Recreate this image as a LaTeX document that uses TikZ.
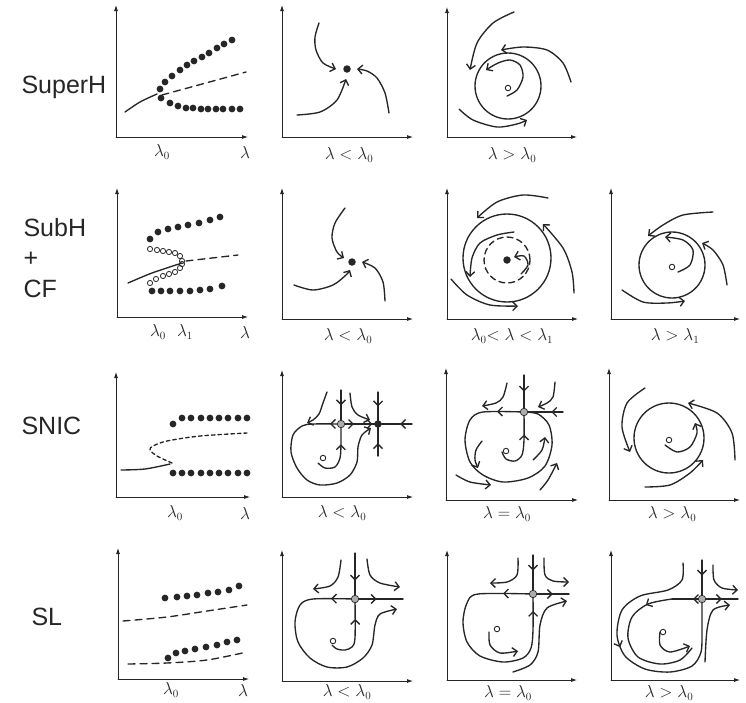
\documentclass[tikz,border=0pt]{standalone}
\usepackage{fontspec}
\setsansfont{Liberation Sans}
\usetikzlibrary{arrows.meta, decorations.markings}

\begin{document}
\begin{tikzpicture}[x=1pt, y=-1pt, line cap=round, black!85,
  axis/.style={line width=0.8pt, -{Latex[length=6pt,width=4pt]}},
  traj/.style={line width=1.35pt},
  flow/.style={traj, -{Straight Barb[length=4.5pt,width=9pt]}},
  mid/.style={postaction={decorate, decoration={markings,
      mark=at position #1 with {\arrow{Straight Barb[length=4.5pt,width=9pt]}}}}},
  sink/.style={circle, fill=black!85, minimum size=7.5pt, inner sep=0pt},
  source/.style={circle, draw=black!85, line width=0.9pt, minimum size=5.5pt, inner sep=0pt},
  saddle/.style={circle, fill=gray!65, draw=black!85, line width=0.7pt, minimum size=7.5pt, inner sep=0pt},
  lab/.style={font=\fontsize{16}{19}\selectfont},
  rowlab/.style={font=\sffamily\fontsize{25}{30}\selectfont, anchor=base west}]
\useasboundingbox (0,0) rectangle (746,702);

% row titles
\node[rowlab] (superh) at (18,93)  {SuperH};
\node[rowlab] (subh)   at (20,236) {SubH};
\node[rowlab] (plus)   at (20,266) {+};
\node[rowlab] (cf)     at (20,297) {CF};
\node[rowlab] (snic)   at (18,434) {SNIC};
\node[rowlab] (sl)     at (28,625) {SL};

% ---------- row 1: supercritical Hopf ----------
\draw[axis] (116,137) -- (116,5);  \draw[axis] (116,137) -- (248,137);
\draw[axis] (282,137) -- (282,5);  \draw[axis] (282,137) -- (413,137);
\draw[axis] (447,137) -- (447,7);  \draw[axis] (447,137) -- (577,137);
\draw[traj] plot[smooth] coordinates {(125,112) (140,102) (157,94)};
\draw[traj, dash pattern=on 7pt off 5pt] (162,95) -- (246,72);
\foreach \p in {(160,89),(165,82),(172,76),(180,70),(187,65),(194,61),(202,57),(209,53),(217,48),(224,44),(232,40),
                (161,98),(170,103),(178,106),(186,108),(193,108),(201,109),(208,109),(216,109),(223,109),(232,109),(240,109)}
  \fill \p circle (3.4pt);
\node[lab] (l1a) at (162,152) {$\lambda_0$};
\node[lab] (l1b) at (245,152) {$\lambda$};

\draw[flow] plot[smooth] coordinates {(319,23) (315,37) (316,50) (323,63) (336,69)};
\draw[flow] plot[smooth] coordinates {(297,115) (320,112) (337,100) (346,79)};
\draw[flow] plot[smooth] coordinates {(389,113) (385,93) (377,78) (367,71) (357,69)};
\node[sink] (f1) at (347,69) {};
\node[lab] (l1c) at (349,155) {$\lambda < \lambda_0$};

\draw[traj] (508,86) circle (33pt);
\draw[flow] plot[smooth] coordinates {(507,96) (517,90) (523,77) (520,65) (510,60) (498,63) (486,70)};
\draw[flow] plot[smooth] coordinates {(514,12) (493,23) (477,43) (470,70)};
\draw[flow] plot[smooth] coordinates {(571,82) (563,63) (547,50) (523,47) (501,50)};
\draw[flow] plot[smooth] coordinates {(459,109) (473,120) (497,127) (517,124) (527,120)};
\node[source] (s1) at (508,88) {};
\node[lab] (l1d) at (512,155) {$\lambda > \lambda_0$};

% ---------- row 2: subcritical Hopf + cycle fold ----------
\draw[axis] (117,317) -- (117,188); \draw[axis] (117,317) -- (248,317);
\draw[axis] (282,319) -- (282,188); \draw[axis] (282,319) -- (413,319);
\draw[axis] (447,319) -- (447,188); \draw[axis] (447,319) -- (578,319);
\draw[axis] (611,319) -- (611,188); \draw[axis] (611,319) -- (740,319);
\draw[traj] plot[smooth] coordinates {(128,283) (152,273) (182,263)};
\draw[traj, dash pattern=on 7pt off 5pt] (186,261) -- (238,255);
\foreach \p in {(150,239),(158,232),(168,229),(178,227),(188,225),(199,223),(210,220),(220,217),
                (152,291),(161,291),(170,291),(180,291),(190,291),(200,290),(210,289),(222,286)}
  \fill \p circle (3.4pt);
\foreach \p in {(150,249),(157,250),(163,251),(169,252),(175,253),(180,256),(182,261),
                (150,283),(156,279),(163,276),(169,274),(175,272),(180,268),(182,264)}
  \draw[line width=0.8pt] \p circle (2.6pt);
\node[lab] (l2a) at (158,332) {$\lambda_0$};
\node[lab] (l2b) at (185,332) {$\lambda_1$};
\node[lab] (l2c) at (245,332) {$\lambda$};

\draw[flow] plot[smooth] coordinates {(345,208) (335,223) (332,238) (337,252) (344,258)};
\draw[flow] plot[smooth] coordinates {(294,285) (313,290) (333,285) (346,275) (350,270)};
\draw[flow] plot[smooth] coordinates {(385,301) (383,282) (375,268) (362,262)};
\node[sink] (f2) at (352,262) {};
\node[lab] (l2d) at (348,336) {$\lambda < \lambda_0$};

\draw[traj] (507,258) circle (44pt);
\draw[traj, dash pattern=on 6pt off 4pt] (507,260) circle (23pt);
\draw[flow] plot[smooth] coordinates {(521,274) (528,265) (524,256) (514,257)};
\draw[flow] plot[smooth] coordinates {(514,232) (497,235) (480,243) (472,258) (470,277)};
\draw[flow] plot[smooth] coordinates {(548,198) (523,195) (497,202) (477,218)};
\draw[flow] plot[smooth] coordinates {(574,293) (572,272) (563,248) (543,224)};
\draw[flow] plot[smooth] coordinates {(451,279) (467,295) (490,305) (518,306)};
\node[sink] (f3) at (507,260) {};
\node[lab] (l2e) at (512,336) {$\lambda_0{<}\ \lambda < \lambda_1$};

\draw[traj] (672,265) circle (33pt);
\draw[flow] plot[smooth] coordinates {(678,272) (690,265) (693,250) (683,240) (665,237)};
\draw[flow] plot[smooth] coordinates {(713,212) (683,215) (663,225) (648,236)};
\draw[flow] plot[smooth] coordinates {(727,285) (723,265) (713,250) (702,243)};
\draw[flow] plot[smooth] coordinates {(622,290) (643,302) (667,303) (685,301)};
\node[source] (s2) at (672,267) {};
\node[lab] (l2f) at (675,336) {$\lambda > \lambda_1$};

% ---------- row 3: SNIC ----------
\draw[axis] (116,497) -- (116,372); \draw[axis] (116,497) -- (250,497);
\draw[axis] (282,497) -- (282,370); \draw[axis] (282,497) -- (413,497);
\draw[axis] (446,500) -- (446,368); \draw[axis] (446,500) -- (578,500);
\draw[axis] (609,500) -- (609,368); \draw[axis] (609,500) -- (740,500);
\draw[traj] plot[smooth] coordinates {(121,470) (145,469) (170,464)};
\draw[traj, dash pattern=on 3.5pt off 3pt] plot[smooth] coordinates {(172,463) (157,456) (150,450) (153,446) (167,441) (200,436) (247,433)};
\foreach \x in {173,182,191,201,210,219,228,238,247} \fill (\x,473) circle (3.4pt);
\foreach \x in {182,191,201,210,219,228,238,247} \fill (\x,418) circle (3.4pt);
\fill (173,424) circle (3.4pt);
\node[lab] (l3a) at (175,513) {$\lambda_0$};
\node[lab] (l3b) at (245,513) {$\lambda$};

\draw[traj, mid=0.45] (341,390) -- (341,424);
\draw[traj, mid=0.35, mid=0.85] (341,424) -- (378,424);
\draw[traj, mid=0.35] (412,424) -- (378,424);
\draw[traj, mid=0.45] (378,392) -- (378,424);
\draw[traj, mid=0.4] (378,456) -- (378,424);
\draw[flow, mid=11pt] plot[smooth] coordinates {(341,424) (313,424) (302,426) (293,435) (291,452) (297,468) (307,480) (320,485) (337,483) (350,475) (357,462) (358,447) (362,435) (371,428)};
\draw[traj, mid=0.68] plot[smooth] coordinates {(318,463) (325,468) (335,467) (340,458) (341,444) (341,424)};
\draw[flow] plot[smooth] coordinates {(327,392) (323,403) (319,414) (313,420) (307,423)};
\draw[flow] plot[smooth] coordinates {(350,393) (352,407) (358,415) (370,420)};
\node[saddle] (sn1) at (341,424) {};
\node[sink] (f4) at (378,424) {};
\node[source] (s3) at (323,458) {};
\node[lab] (l3c) at (342,513) {$\lambda < \lambda_0$};

\draw[traj, mid=0.45] (524,375) -- (524,412);
\draw[traj, mid=0.3] (563,412) -- (524,412);
\draw[traj, mid=27pt] plot[smooth] coordinates {(524,412) (483,412) (470,420) (465,440) (470,462) (483,475) (503,482) (528,478) (545,466) (552,445) (549,425) (538,414) (524,412)};
\draw[traj, mid=0.68] plot[smooth] coordinates {(502,452) (506,459) (515,461) (522,455) (524,440) (524,412)};
\draw[flow] plot[smooth] coordinates {(507,383) (503,397) (496,403) (482,406)};
\draw[flow] plot[smooth] coordinates {(555,382) (553,397) (547,403) (538,407)};
\draw[flow] plot[smooth] coordinates {(482,441) (476,450) (475,460) (478,468)};
\draw[flow] plot[smooth] coordinates {(533,460) (542,450) (545,437)};
\draw[flow] plot[smooth] coordinates {(456,475) (470,482) (491,485)};
\draw[flow] plot[smooth] coordinates {(540,490) (548,480) (557,463)};
\node[saddle] (sn2) at (524,412) {};
\node[source] (s4) at (506,451) {};
\node[lab] (l3d) at (507,514) {$\lambda = \lambda_0$};

\draw[traj] (669,438) circle (35pt);
\draw[flow] plot[smooth] coordinates {(665,445) (677,452) (690,447) (697,433) (695,423)};
\draw[flow] plot[smooth] coordinates {(645,388) (627,403) (622,427) (630,452)};
\draw[flow] plot[smooth] coordinates {(735,460) (732,433) (717,413) (688,403)};
\draw[flow] plot[smooth] coordinates {(645,487) (670,485) (690,473) (703,460)};
\node[source] (s5) at (669,440) {};
\node[lab] (l3e) at (672,514) {$\lambda > \lambda_0$};

% ---------- row 4: saddle homoclinic loop ----------
\draw[axis] (118,679) -- (118,548); \draw[axis] (118,679) -- (249,679);
\draw[axis] (282,681) -- (282,550); \draw[axis] (282,681) -- (413,681);
\draw[axis] (447,680) -- (447,550); \draw[axis] (447,680) -- (577,680);
\draw[axis] (611,680) -- (611,550); \draw[axis] (611,680) -- (740,680);
\draw[traj, dash pattern=on 7pt off 5pt] plot[smooth] coordinates {(123,621) (167,617) (207,611) (247,605)};
\draw[traj, dash pattern=on 7pt off 5pt] plot[smooth] coordinates {(128,664) (167,663) (207,660) (247,652)};
\foreach \p in {(165,598),(177,597),(187,596),(197,595),(208,593),(218,592),(229,590),(239,586),
                (168,658),(176,653),(185,651),(195,649),(206,647),(217,645),(227,642),(237,640)}
  \fill \p circle (3.4pt);
\node[lab] (l4a) at (171,690) {$\lambda_0$};
\node[lab] (l4b) at (243,690) {$\lambda$};

\draw[traj, mid=0.6] (355,553) -- (355,599);
\draw[traj, mid=0.45] (355,599) -- (403,599);
\draw[flow, mid=24pt] plot[smooth] coordinates {(355,599) (313,599) (300,605) (295,622) (298,642) (310,658) (327,667) (347,667) (363,658) (372,645) (375,625) (380,614) (397,609)};
\draw[traj, mid=0.72] plot[smooth] coordinates {(332,645) (337,649) (345,650) (352,647) (355,638) (355,599)};
\draw[flow] plot[smooth] coordinates {(341,560) (338,577) (330,586) (313,589)};
\draw[flow] plot[smooth] coordinates {(367,559) (370,575) (380,583) (400,587)};
\node[saddle] (sd1) at (355,599) {};
\node[source] (s6) at (333,641) {};
\node[lab] (l4c) at (347,692) {$\lambda < \lambda_0$};

\draw[traj, mid=0.4] (533,555) -- (533,594);
\draw[traj, mid=0.55] (533,594) -- (569,594);
\draw[traj, mid=30pt, mid=0.93] plot[smooth] coordinates {(533,594) (478,594) (467,603) (463,622) (467,642) (480,656) (503,662) (523,658) (531,648) (533,630) (533,594)};
\draw[flow] plot[smooth] coordinates {(489,632) (490,645) (500,653) (518,651)};
\draw[flow] plot[smooth] coordinates {(518,558) (517,575) (507,582) (490,583)};
\draw[flow] plot[smooth] coordinates {(544,558) (545,575) (553,581) (569,582)};
\draw[flow] plot[smooth] coordinates {(513,672) (530,665) (538,652) (540,625) (547,608) (567,601)};
\node[saddle] (sd2) at (533,594) {};
\node[source] (s7) at (497,629) {};
\node[lab] (l4d) at (508,693) {$\lambda = \lambda_0$};

\draw[traj, mid=0.4] (702,560) -- (702,599);
\draw[traj, mid=0.55] (702,599) -- (738,599);
\draw[traj, mid=0.3] (702,599) -- (672,599);
\draw[traj, mid=0.45] plot[smooth] coordinates {(683,563) (682,580) (668,590) (640,596) (622,610) (617,635) (625,656) (645,669) (670,672) (692,666) (701,652) (702,630) (702,599)};
\draw[traj, mid=0.18] plot[smooth] coordinates {(672,599) (648,604) (632,617) (628,638) (638,657) (660,664) (680,660) (692,648)};
\draw[flow] plot[smooth] coordinates {(660,632) (660,645) (670,652) (690,646)};
\draw[flow] plot[smooth] coordinates {(713,565) (714,580) (722,588) (738,590)};
\draw[flow] plot[smooth] coordinates {(705,662) (707,630) (713,610) (730,605)};
\node[saddle] (sd3) at (702,599) {};
\node[source] (s8) at (663,632) {};
\node[lab] (l4e) at (669,693) {$\lambda > \lambda_0$};
\end{tikzpicture}
\end{document}
